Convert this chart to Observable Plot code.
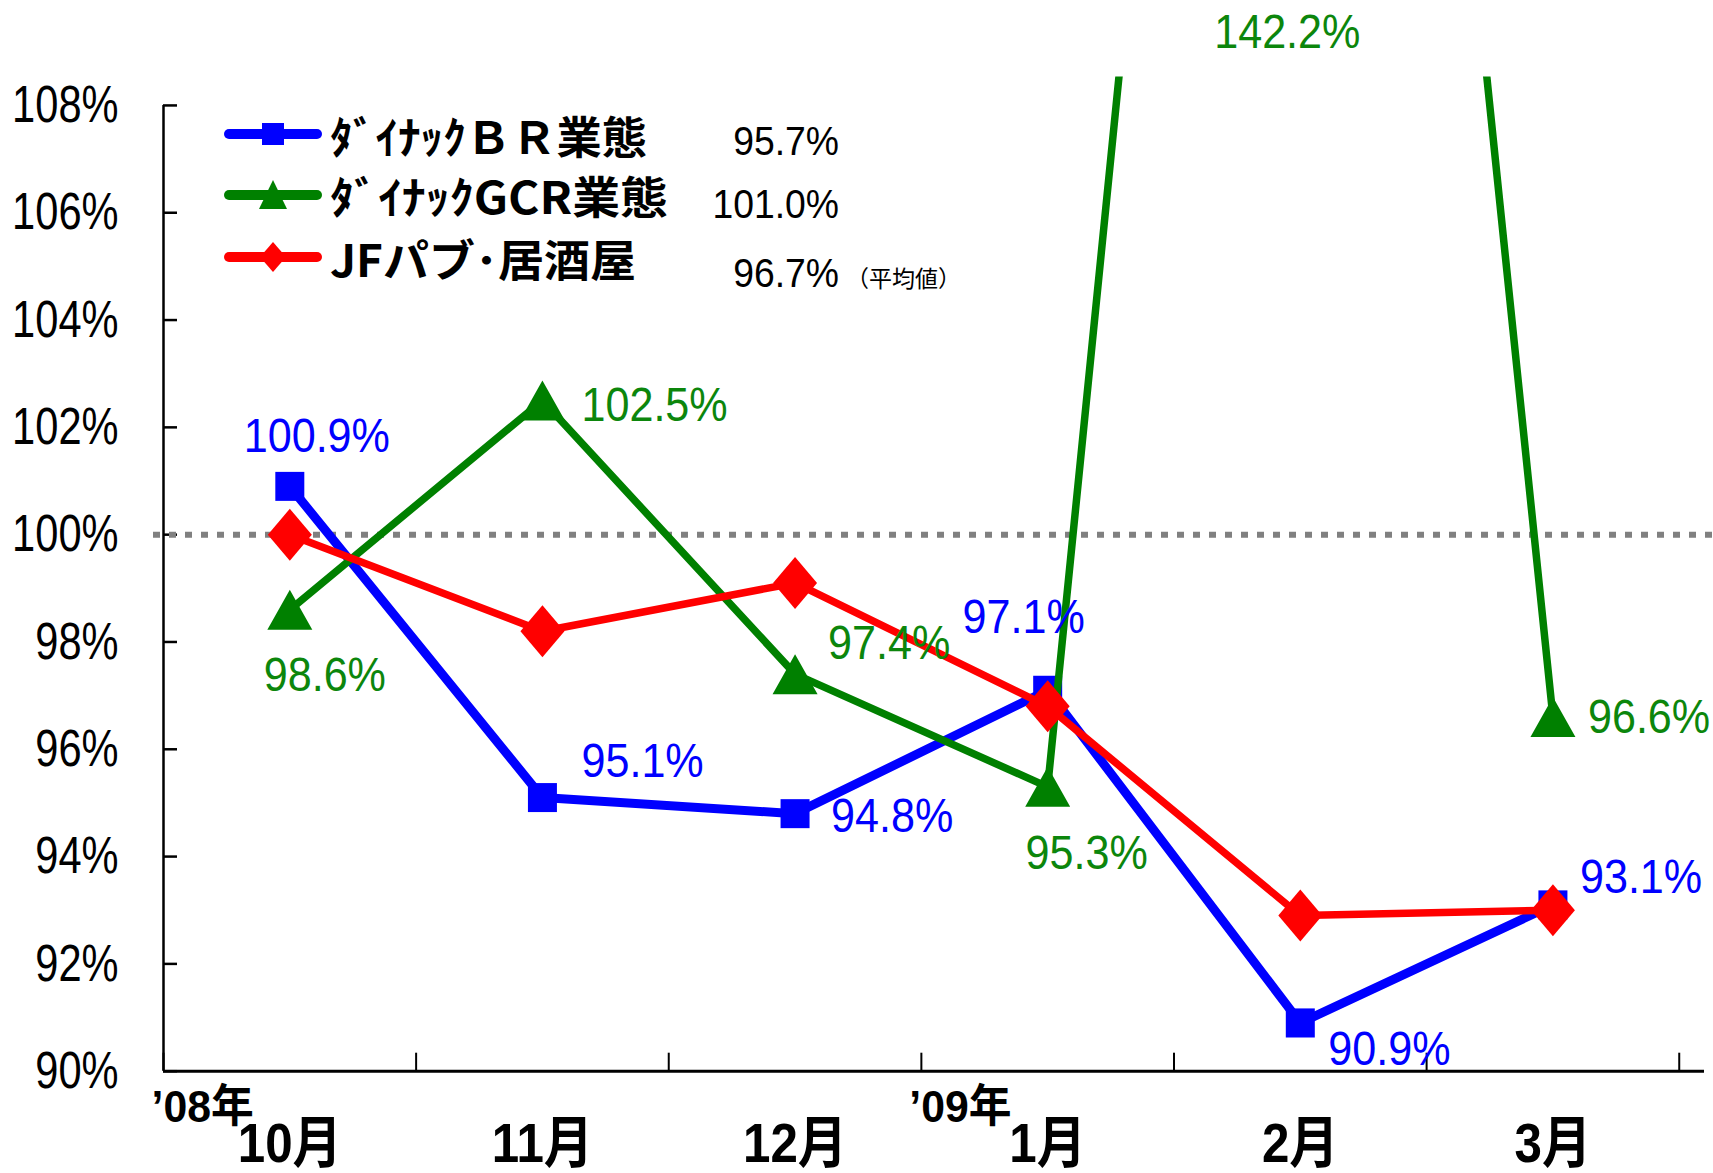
<!DOCTYPE html>
<html><head><meta charset="utf-8">
<script src="https://cdn.jsdelivr.net/npm/d3@7"></script>
<script src="https://cdn.jsdelivr.net/npm/@observablehq/plot@0.6"></script>
<style>
html,body{margin:0;padding:0;background:#fff;}
#wrap{position:relative;width:1713px;height:1173px;overflow:hidden;}
#wrap svg.overlay{position:absolute;left:0;top:0;pointer-events:none;}
</style></head><body><div id="wrap"></div>
<script>
// ---- data ----
const months = ["10月", "11月", "12月", "1月", "2月", "3月"];
const yearLabels = ["’08年", "’09年"];
const yearStartMonth = [0, 3];
const seriesNames = ["ﾀﾞｲﾅｯｸＢＲ業態", "ﾀﾞｲﾅｯｸGCR業態", "JFパブ･居酒屋"];
const brValues  = [100.9, 95.1, 94.8, 97.1, 90.9, 93.1];
const gcrValues = [98.6, 102.5, 97.4, 95.3, 142.2, 96.6];
const jfValues  = [100.0, 98.2, 99.1, 96.8, 92.9, 93.0];
const averages  = [95.7, 101.0, 96.7];
const averageNote = "（平均値）";
const yTicks = [90, 92, 94, 96, 98, 100, 102, 104, 106, 108];
const baseline = 100;

// ---- styles / layout ----
const W = 1713, H = 1173;
const mL = 163, mR = 9, mT = 76.5, mB = 102.3;
const frameW = W - mL - mR, frameH = H - mT - mB;
const BLUE = "#0000ff", GREEN = "#008000", GREEN_TEXT = "#0c860c", RED = "#ff0000";
const NUM_FONT = "'Liberation Sans Narrow', 'Arial Narrow', 'Liberation Sans', 'Noto Sans CJK JP', sans-serif";
const CJK_FONT = "'Noto Sans CJK JP', sans-serif";
const FS_Y = 52, FS_LABEL = 49, FS_MONTH = 56, FS_YEAR = 45;
const condenseBySize = {[FS_Y]: 0.80, [FS_LABEL]: 0.88, [FS_MONTH]: 0.88, [FS_YEAR]: 0.95};

const poly = (pts) => ({draw(c) { c.moveTo(pts[0][0], pts[0][1]); for (const p of pts.slice(1)) c.lineTo(p[0], p[1]); c.closePath(); }});
const square = (h) => poly([[-h,-h],[h,-h],[h,h],[-h,h]]);
const triangle = (w, h) => poly([[0,-h/2],[w/2,h/2],[-w/2,h/2]]);
const diamond = (w, h) => poly([[0,-h/2],[w/2,0],[0,h/2],[-w/2,0]]);

const rows = (vals) => vals.map((v, i) => ({i, v}));
const br = rows(brValues), gcr = rows(gcrValues), jf = rows(jfValues);

// label offsets [dx, dy, anchor] (px) for each point
const brLabelPos  = [[27,-50,"middle"],[39,-36,"start"],[36,3,"start"],[-24,-73,"middle"],[28,26,"start"],[27,-28,"start"]];
const gcrLabelPos = [[35,66,"middle"],[39,5,"start"],[33,-31,"start"],[39,66,"middle"],[-13,"top","middle"],[35,0,"start"]];

function labelMarks(data, pos, color) {
  return data.map((d, k) => {
    const [dx, dy, anchor] = pos[k];
    const common = {x: "i", text: (d) => d.v.toFixed(1) + "%", fill: color, fontSize: FS_LABEL, fontFamily: NUM_FONT,
      textAnchor: anchor, lineAnchor: "middle", dx};
    if (dy === "top") return Plot.text([d], {...common, frameAnchor: "top", dy: -45});
    return Plot.text([d], {...common, y: "v", dy});
  });
}

const boundaries = d3.range(months.length + 1).map((k) => k - 0.5);

const chart = Plot.plot({
  width: W, height: H,
  marginLeft: mL, marginRight: mR, marginTop: mT, marginBottom: mB,
  x: {type: "linear", domain: [-0.5, 5.6], axis: null},
  y: {domain: [90, 108.53], axis: null},
  style: {background: "white", overflow: "visible", fontFamily: NUM_FONT, color: "black"},
  marks: [
    // axes
    Plot.ruleY([90], {stroke: "black", strokeWidth: 3}),
    Plot.ruleX([boundaries[0]], {y1: yTicks[0], y2: yTicks[yTicks.length - 1], stroke: "black", strokeWidth: 2.5}),
    Plot.tickY(yTicks, {y: (d) => d, insetRight: frameW - 14, stroke: "black", strokeWidth: 2.5}),
    Plot.tickX(boundaries, {x: (d) => d, insetTop: frameH - 18, stroke: "black", strokeWidth: 2}),
    Plot.text(yTicks, {y: (d) => d, frameAnchor: "left", dx: -45, text: (d) => d + "%", textAnchor: "end",
      lineAnchor: "middle", fontSize: FS_Y, fill: "black"}),
    Plot.text(months, {x: (d, i) => i, frameAnchor: "bottom", dy: 90.3, lineAnchor: "bottom", textAnchor: "middle",
      fontSize: FS_MONTH, fontWeight: "bold", fill: "black"}),
    Plot.text(yearStartMonth, {x: (d) => d - 0.5, text: (d, i) => yearLabels[i], frameAnchor: "bottom", dy: 51,
      dx: -12, lineAnchor: "bottom", textAnchor: "start", fontSize: FS_YEAR, fontWeight: "bold", fill: "black"}),
    // 100% reference
    Plot.ruleY([baseline], {stroke: "#808080", strokeWidth: 6, strokeDasharray: "7,9", insetLeft: -10, insetRight: -9}),
    // series
    Plot.line(br, {x: "i", y: "v", stroke: BLUE, strokeWidth: 9, strokeLinejoin: "miter", clip: true}),
    Plot.dot(br, {x: "i", y: "v", symbol: square(14.5), fill: BLUE, r: 5, clip: true}),
    Plot.line(gcr, {x: "i", y: "v", stroke: GREEN, strokeWidth: 7.5, strokeLinejoin: "miter", clip: true}),
    Plot.dot(gcr, {x: "i", y: "v", symbol: triangle(45, 40), fill: GREEN, r: 5, clip: true}),
    Plot.line(jf, {x: "i", y: "v", stroke: RED, strokeWidth: 7.5, strokeLinejoin: "miter", clip: true}),
    Plot.dot(jf, {x: "i", y: "v", symbol: diamond(44, 52), fill: RED, r: 5, clip: true}),
    ...labelMarks(br, brLabelPos, BLUE),
    ...labelMarks(gcr, gcrLabelPos, GREEN_TEXT)
  ]
});

const wrap = document.getElementById("wrap");
wrap.appendChild(chart);

// narrow the numeric texts (no condensed font installed)
chart.querySelectorAll("text").forEach((t) => {
  const holder = t.closest("[font-size]");
  const fs = holder ? parseFloat(holder.getAttribute("font-size")) : NaN;
  const f = condenseBySize[fs];
  if (!f) return;
  const L = t.getComputedTextLength();
  if (L > 0) { t.setAttribute("textLength", L * f); t.setAttribute("lengthAdjust", "spacingAndGlyphs"); }
});

// ---- legend overlay ----
const colors = [BLUE, GREEN, RED];
const swatchY = [134, 195, 257];
const textBase = [154, 214, 277];
const valueBase = [155, 218, 287];
const nameWidths = [317, 338, 306];
const markers = [
  d3.line()([[-11,-11],[11,-11],[11,11],[-11,11]]) + "Z",
  d3.line()([[0,-15],[14,14],[-14,14]]) + "Z",
  d3.line()([[0,-15],[13,0],[0,15],[-13,0]]) + "Z"
];
const leg = d3.select(wrap).append("svg").attr("class", "overlay").attr("width", W).attr("height", H);
seriesNames.forEach((name, k) => {
  const g = leg.append("g");
  g.append("line").attr("x1", 229).attr("x2", 317).attr("y1", swatchY[k]).attr("y2", swatchY[k])
    .attr("stroke", colors[k]).attr("stroke-width", 10).attr("stroke-linecap", "round");
  g.append("path").attr("d", markers[k]).attr("transform", `translate(273,${swatchY[k]})`).attr("fill", colors[k]);
  g.append("text").attr("x", 330).attr("y", textBase[k]).text(name)
    .attr("font-family", CJK_FONT).attr("font-weight", "bold").attr("font-size", 44)
    .attr("textLength", nameWidths[k]).attr("lengthAdjust", "spacingAndGlyphs");
  const v = g.append("text").attr("x", 839).attr("y", valueBase[k]).text(averages[k].toFixed(1) + "%")
    .attr("font-family", NUM_FONT).attr("font-size", 41).attr("text-anchor", "end");
  const L = v.node().getComputedTextLength();
  v.attr("textLength", L * 0.91).attr("lengthAdjust", "spacingAndGlyphs");
});
leg.append("text").attr("x", 846).attr("y", 287).text(averageNote)
  .attr("font-family", CJK_FONT).attr("font-size", 23);
</script></body></html>
